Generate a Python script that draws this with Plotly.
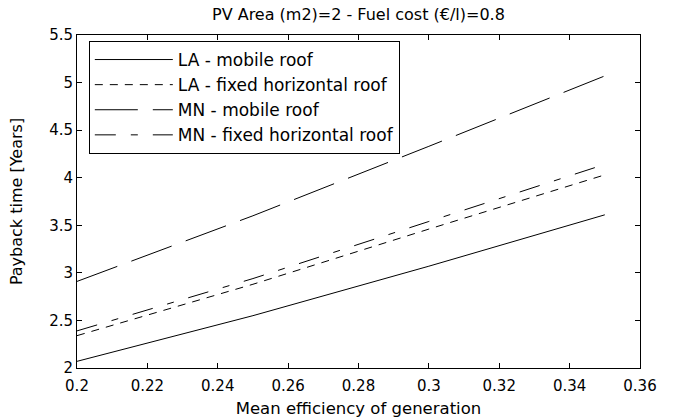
import plotly.graph_objects as go

efficiency = [0.20, 0.25, 0.30, 0.35]
la_mobile = [2.07, 2.55, 3.07, 3.61]
la_fixed = [2.34, 2.88, 3.46, 4.03]
mn_mobile = [2.91, 3.60, 4.33, 5.07]
mn_fixed = [2.39, 2.94, 3.54, 4.14]

series_names = ["LA - mobile roof", "LA - fixed horizontal roof",
                "MN - mobile roof", "MN - fixed horizontal roof"]
series_vals = [la_mobile, la_fixed, mn_mobile, mn_fixed]
dashes = ["solid", "8px,7px", "43px,15px", "21px,15px,7px,15px"]

x_ticks = [0.2, 0.22, 0.24, 0.26, 0.28, 0.3, 0.32, 0.34, 0.36]
x_labels = ["0.2", "0.22", "0.24", "0.26", "0.28", "0.3", "0.32", "0.34", "0.36"]
y_ticks = [2, 2.5, 3, 3.5, 4, 4.5, 5, 5.5]
y_labels = ["2", "2.5", "3", "3.5", "4", "4.5", "5", "5.5"]

fig = go.Figure()
for name, vals, d in zip(series_names, series_vals, dashes):
    fig.add_trace(go.Scatter(x=efficiency, y=vals, mode="lines", name=name,
                             line=dict(color="black", width=1, dash=d)))

fam = "DejaVu Sans, Arial, sans-serif"
font = dict(family=fam, size=14, color="black")
axis_common = dict(ticks="inside", ticklen=5, tickcolor="black", showgrid=False,
                   zeroline=False, showline=True, linecolor="black", linewidth=1,
                   mirror="ticks", automargin=False,
                   tickfont=dict(family=fam, size=15, color="black"))
fig.update_layout(
    width=675, height=419,
    margin=dict(l=77, r=35, t=35, b=51),
    paper_bgcolor="white", plot_bgcolor="white",
    font=font,
    title=dict(text="PV Area (m2)=2 - Fuel cost (€/l)=0.8", x=0.531, xanchor="center",
               y=1 - 14 / 419, yanchor="middle", font=dict(family=fam, size=16)),
    showlegend=True,
    legend=dict(x=0.021, y=0.982, xanchor="left", yanchor="top",
                bgcolor="white", bordercolor="black", borderwidth=1,
                font=dict(family=fam, size=17), itemwidth=78, tracegroupgap=0),
    xaxis=dict(range=[0.2, 0.36], tickvals=x_ticks, ticktext=x_labels,
               ticklabelstandoff=4,
               title=dict(text="Mean efficiency of generation", standoff=8,
                          font=dict(family=fam, size=16.5)),
               **axis_common),
    yaxis=dict(range=[2, 5.5], tickvals=y_ticks, ticktext=y_labels,
               title=dict(text="Payback time [Years]", standoff=22,
                          font=dict(family=fam, size=16)),
               **axis_common),
)

fig.write_html("out.html")
